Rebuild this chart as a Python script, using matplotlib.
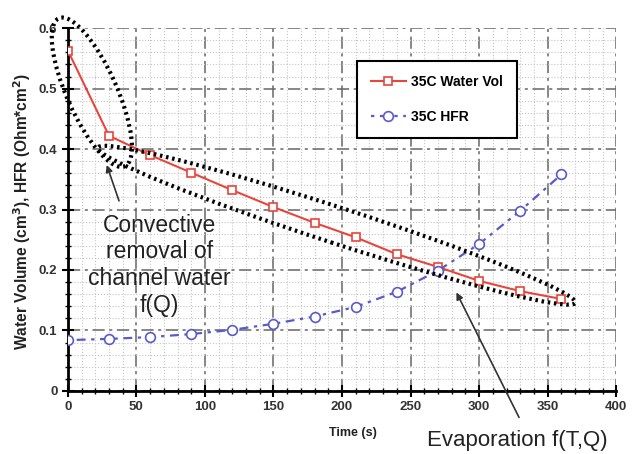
import matplotlib
matplotlib.use("Agg")
import matplotlib.pyplot as plt
from matplotlib.patches import Ellipse
from matplotlib.transforms import ScaledTranslation
from matplotlib.ticker import MultipleLocator

plt.rcParams['font.family'] = ['Liberation Sans', 'DejaVu Sans']

# data
time_s = [0, 30, 60, 90, 120, 150, 180, 210, 240, 270, 300, 330, 360]
water_vol = [0.563, 0.422, 0.390, 0.361, 0.332, 0.304, 0.278, 0.254, 0.226, 0.205, 0.182, 0.165, 0.152]
hfr = [0.084, 0.086, 0.089, 0.094, 0.101, 0.111, 0.123, 0.139, 0.164, 0.199, 0.243, 0.298, 0.358]

fig = plt.figure(figsize=(6.34, 4.54), dpi=100)
ax = fig.add_axes([0.107, 0.139, 0.865, 0.799])

ax.plot(time_s, water_vol, color='#e8463c', lw=1.5, marker='s', ms=6,
        mfc='white', mec='#e8463c', mew=1.2, label='35C Water Vol', zorder=4)
ax.plot(time_s, hfr, color='#5a5ac8', lw=1.6, ls=(0, (1.5, 2.5, 4, 2.5)), marker='o', ms=7,
        mfc='white', mec='#5a5ac8', mew=1.2, label='35C HFR', zorder=4)

ax.set_xlim(0, 400)
ax.set_ylim(0, 0.6)
ax.xaxis.set_major_locator(MultipleLocator(50))
ax.xaxis.set_minor_locator(MultipleLocator(10))
ax.yaxis.set_major_locator(MultipleLocator(0.1))
ax.yaxis.set_minor_locator(MultipleLocator(0.02))
ax.set_yticks([0, 0.1, 0.2, 0.3, 0.4, 0.5, 0.6])
ax.set_yticklabels(['0', '0.1', '0.2', '0.3', '0.4', '0.5', '0.6'])
ax.set_xticks(range(0, 401, 50))

ax.grid(which='major', color='#666666', lw=1.1, ls=(0, (8, 3, 2, 3)))
ax.grid(which='minor', color='#c4c4c4', lw=0.8, ls=':')
ax.set_axisbelow(True)

for s in ['top', 'right']:
    ax.spines[s].set_visible(False)
for s in ['left', 'bottom']:
    ax.spines[s].set_linewidth(2)
ax.tick_params(which='major', direction='inout', length=8, width=1.5,
               labelsize=9.5)
ax.tick_params(which='minor', direction='inout', length=4, width=1)
for lbl in ax.get_xticklabels() + ax.get_yticklabels():
    lbl.set_fontweight('bold')
    lbl.set_color('#333333')

ax.set_xlabel('Time (s)', fontsize=9, fontweight='bold', color='#222222')
ax.xaxis.set_label_coords(0.52, -0.1)
ax.set_ylabel('Water Volume (cm$^\\mathbf{3}$), HFR (Ohm*cm$^\\mathbf{2}$)',
              fontsize=11.2, fontweight='bold', color='#222222')
ax.yaxis.set_label_coords(-0.064, 0.493)

leg = ax.legend(loc='upper left', bbox_to_anchor=(357 / 634, 1 - 61 / 454),
                bbox_transform=fig.transFigure, fancybox=False, framealpha=1,
                edgecolor='black', prop={'weight': 'bold', 'size': 10},
                labelspacing=1.5, borderpad=1.0, handlelength=2.5,
                handletextpad=0.4, borderaxespad=0)
leg.get_frame().set_linewidth(1.5)

# dotted ellipses drawn in inches so they stay round
def ring(x, y, w, h, ang):
    tr = fig.dpi_scale_trans + ScaledTranslation(x, y, ax.transData)
    e = Ellipse((0, 0), w, h, angle=ang, transform=tr, fill=False,
                ec='black', lw=3, ls=(0, (0.6, 0.9)), clip_on=False, zorder=5)
    ax.add_patch(e)

ring(17.5, 0.494, 1.62, 0.50, -66)
ring(196, 0.274, 5.02, 0.36, -18)

ax.text(67, 0.208, 'Convective\nremoval of\nchannel water\nf(Q)', ha='center',
        va='center', fontsize=16.5, linespacing=1.2, color='#222222', zorder=6)
ax.annotate('', xy=(27.7, 0.378), xytext=(38, 0.31),
            arrowprops=dict(arrowstyle='-|>', color='#333333', lw=1.2,
                            mutation_scale=10), zorder=6)

ax.annotate('', xy=(282.5, 0.167), xytext=(330, -0.048),
            arrowprops=dict(arrowstyle='-|>', color='#333333', lw=1.2,
                            mutation_scale=10), annotation_clip=False, zorder=6)
ax.text(328, -0.082, 'Evaporation f(T,Q)', ha='center', va='center',
        fontsize=16, color='#222222', clip_on=False)

fig.savefig('out.png', dpi=100)
